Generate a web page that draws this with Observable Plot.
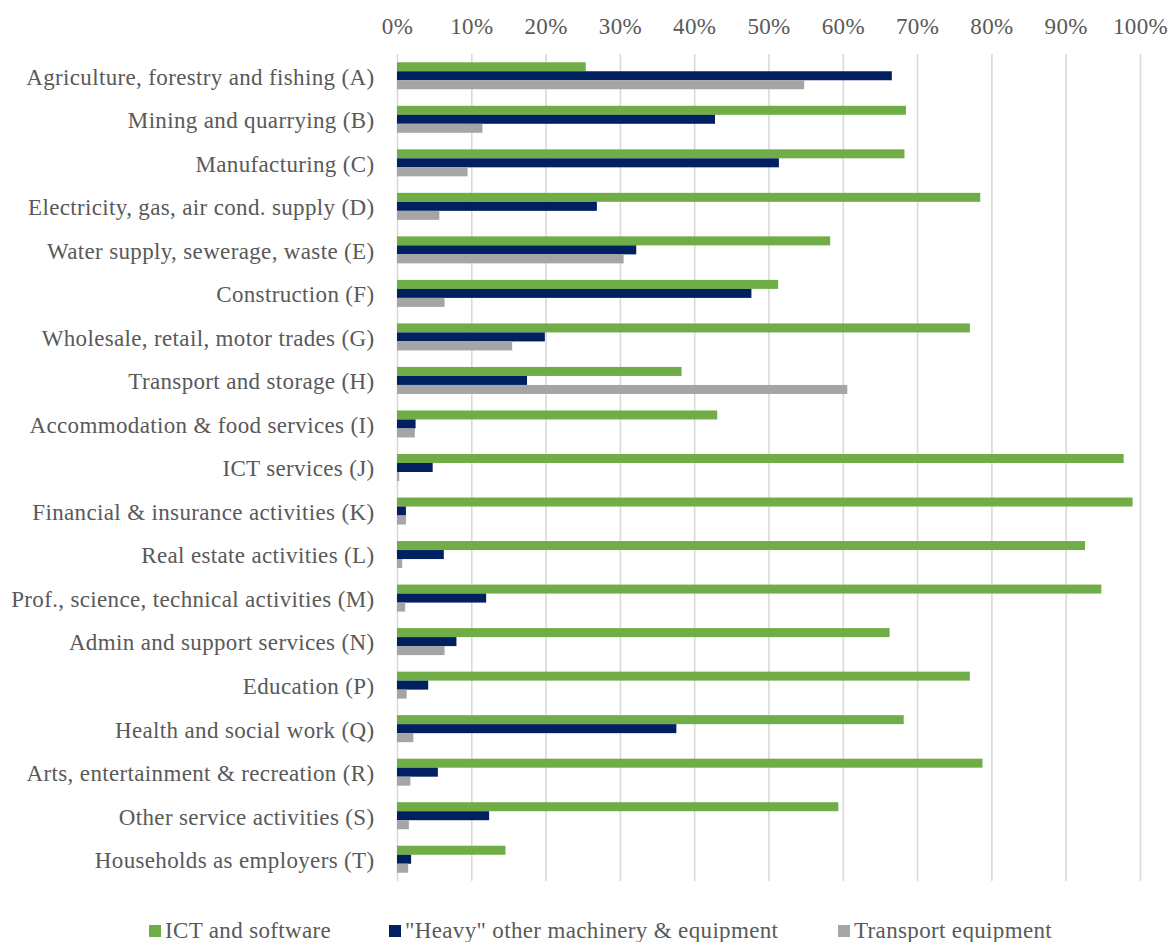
<!DOCTYPE html>
<html>
<head>
<meta charset="utf-8">
<script src="https://cdn.jsdelivr.net/npm/d3@7"></script>
<script src="https://cdn.jsdelivr.net/npm/@observablehq/plot@0.6"></script>
<style>
  html, body { margin: 0; padding: 0; background: #fff; }
  #chart { width: 1173px; }
  svg { display: block; }
  .legend { display: flex; align-items: center; height: 42px; margin-top: 10px;
    font-family: "Liberation Serif", "Times New Roman", serif; font-size: 23px; letter-spacing: 0.35px; color: #595959; }
  .legend .item { display: flex; align-items: center; position: absolute; }
  .legend .sw { width: 12px; height: 12px; margin-right: 4px; }
</style>
</head>
<body>
<div id="chart"></div>
<script>
const industries = [
  "Agriculture, forestry and fishing (A)",
  "Mining and quarrying (B)",
  "Manufacturing (C)",
  "Electricity, gas, air cond. supply (D)",
  "Water supply, sewerage, waste (E)",
  "Construction (F)",
  "Wholesale, retail, motor trades (G)",
  "Transport and storage (H)",
  "Accommodation & food services (I)",
  "ICT services (J)",
  "Financial & insurance activities (K)",
  "Real estate activities (L)",
  "Prof., science, technical activities (M)",
  "Admin and support services (N)",
  "Education (P)",
  "Health and social work (Q)",
  "Arts, entertainment & recreation (R)",
  "Other service activities (S)",
  "Households as employers (T)"
];
const ictSoftware    = [25.4, 68.5, 68.3, 78.5, 58.3, 51.3, 77.1, 38.3, 43.1, 97.8, 99.0, 92.6, 94.8, 66.3, 77.1, 68.2, 78.8, 59.4, 14.6];
const heavyMachinery = [66.6, 42.8, 51.4, 26.9, 32.2, 47.7, 19.9, 17.5, 2.5, 4.8, 1.2, 6.3, 12.0, 8.0, 4.2, 37.6, 5.5, 12.4, 1.9];
const transportEquip = [54.8, 11.5, 9.5, 5.7, 30.5, 6.4, 15.5, 60.6, 2.4, 0.3, 1.2, 0.7, 1.1, 6.4, 1.3, 2.2, 1.8, 1.6, 1.5];
const seriesNames = ["ICT and software", "\"Heavy\" other machinery & equipment", "Transport equipment"];
const seriesColors = ["#70AD47", "#002060", "#A5A5A5"];
const xTicks = [0, 10, 20, 30, 40, 50, 60, 70, 80, 90, 100];

const rows = industries.map((name, i) => ({
  industry: name, ict: ictSoftware[i], heavy: heavyMachinery[i], transport: transportEquip[i]
}));

const W = 1173, H = 900, mT = 54, mB = 19;
const bw = (H - mT - mB) / industries.length;
const bh = 9;
const font = "'Liberation Serif', 'Times New Roman', serif";

const chart = Plot.plot({
  width: W,
  height: H,
  marginTop: mT,
  marginBottom: mB,
  marginLeft: 397,
  marginRight: 33,
  style: { fontFamily: font, fontSize: "23px", color: "#595959", background: "#fff", letterSpacing: "0.35px" },
  x: { domain: [0, 100], label: null },
  y: { domain: industries, padding: 0, round: false, label: null },
  marks: [
    Plot.ruleX(xTicks, { x: d => d, stroke: "#D9D9D9", strokeWidth: 1.6 }),
    Plot.barX(rows, { y: "industry", x: "ict", fill: seriesColors[0],
      insetTop: bw / 2 - 1.5 * bh, insetBottom: bw / 2 + 0.5 * bh }),
    Plot.barX(rows, { y: "industry", x: "heavy", fill: seriesColors[1],
      insetTop: bw / 2 - 0.5 * bh, insetBottom: bw / 2 - 0.5 * bh }),
    Plot.barX(rows, { y: "industry", x: "transport", fill: seriesColors[2],
      insetTop: bw / 2 + 0.5 * bh, insetBottom: bw / 2 - 1.5 * bh }),
    Plot.axisX({ anchor: "top", ticks: xTicks, tickFormat: d => d + "%", tickSize: 0, tickPadding: 21, label: null }),
    Plot.axisY({ anchor: "left", tickSize: 0, tickPadding: 23, dy: 1, label: null })
  ]
});
document.getElementById("chart").appendChild(chart);

const legend = document.createElement("div");
legend.className = "legend";
legend.style.position = "relative";
const lefts = [149, 389, 838];
seriesNames.forEach((name, i) => {
  const item = document.createElement("div");
  item.className = "item";
  item.style.left = lefts[i] + "px";
  const sw = document.createElement("span");
  sw.className = "sw";
  sw.style.background = seriesColors[i];
  const tx = document.createElement("span");
  tx.textContent = name;
  item.appendChild(sw);
  item.appendChild(tx);
  legend.appendChild(item);
});
document.getElementById("chart").appendChild(legend);
</script>
</body>
</html>
